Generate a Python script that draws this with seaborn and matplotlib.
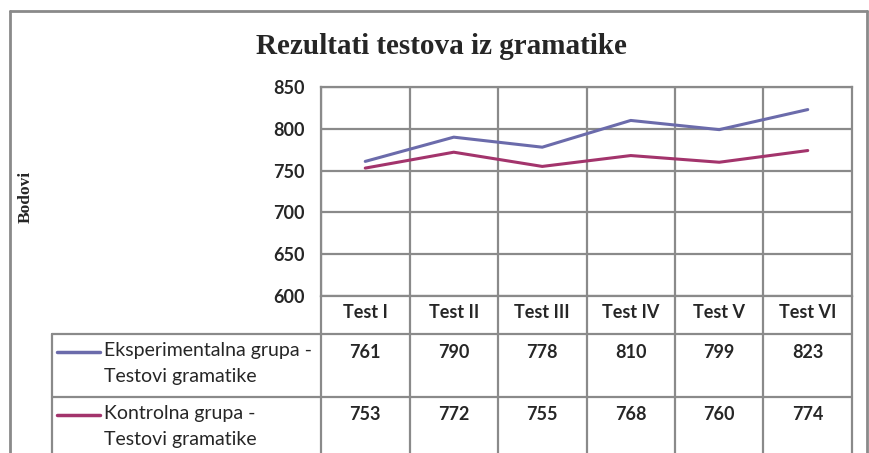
import numpy as np
import pandas as pd
import seaborn as sns
import matplotlib.pyplot as plt
from matplotlib.lines import Line2D

tests = ["Test I", "Test II", "Test III", "Test IV", "Test V", "Test VI"]
eksperimentalna = [761, 790, 778, 810, 799, 823]
kontrolna = [753, 772, 755, 768, 760, 774]
series_names = ["Eksperimentalna grupa -\nTestovi gramatike",
                "Kontrolna grupa -\nTestovi gramatike"]
yticks = [600, 650, 700, 750, 800, 850]

colors = ["#6b6bab", "#a3346c"]
gridc = "#8a8a8a"

df = pd.DataFrame({
    "Test": tests * 2,
    "Bodovi": eksperimentalna + kontrolna,
    "Grupa": [series_names[0]] * 6 + [series_names[1]] * 6,
})

sns.set_style("white")
plt.rcParams['font.family'] = ['Lato', 'DejaVu Sans']

fig = plt.figure(figsize=(8.7, 4.53), dpi=100)
ax = fig.add_axes([321/870, 1 - 296/453, 531/870, 209/453])

sns.lineplot(data=df, x="Test", y="Bodovi", hue="Grupa", palette=colors,
             linewidth=2.2, legend=False, ax=ax)

ax.set_xlim(-0.5, len(tests) - 0.5)
ax.set_ylim(600, 850)
ax.set_yticks(yticks)
ax.set_yticklabels([str(v) for v in yticks], fontsize=13, fontweight='bold')
ax.tick_params(axis='y', length=0, pad=12)
ax.set_xticks(np.arange(len(tests)) - 0.5)
ax.set_xticklabels([])
ax.tick_params(axis='x', length=0)
ax.grid(True, color=gridc, linewidth=1.6)
ax.set_axisbelow(True)
for s in ax.spines.values():
    s.set_color(gridc)
    s.set_linewidth(1.6)
ax.set_xlabel("")
ax.set_ylabel("")

# table under the chart
tx = ax.get_xaxis_transform()
ta = ax.transAxes
left = (52 - 321) / 531
h1 = -38 / 209
h2 = -101 / 209
h3 = -164 / 209
kw = dict(color=gridc, linewidth=1.6, clip_on=False)
ax.add_line(Line2D([left, 1], [h1, h1], transform=ta, **kw))
ax.add_line(Line2D([left, 1], [h2, h2], transform=ta, **kw))
ax.add_line(Line2D([left, left], [h1, h3], transform=ta, **kw))
for i in range(len(tests) + 1):
    ax.add_line(Line2D([i - 0.5, i - 0.5], [0, h3], transform=tx, **kw))

for i, t in enumerate(tests):
    ax.text(i, -17 / 209, t, transform=tx, ha='center', va='center',
            fontsize=13, fontweight='bold')
rows = [eksperimentalna, kontrolna]
row_top = [h1, h2]
for r, vals in enumerate(rows):
    for i, v in enumerate(vals):
        ax.text(i, row_top[r] - 18 / 209, str(v), transform=tx,
                ha='center', va='center', fontsize=13, fontweight='bold')
    y0 = row_top[r] - 18 / 209
    ax.add_line(Line2D([(57 - 321) / 531, (100 - 321) / 531], [y0, y0],
                       transform=ta, color=colors[r], linewidth=2.5, clip_on=False))
    ax.text((104 - 321) / 531, y0 + 10 / 209, series_names[r], transform=ta,
            ha='left', va='top', fontsize=14, linespacing=1.65)

fig.text(441 / 870, 1 - 47 / 453, "Rezultati testova iz gramatike",
         ha='center', va='center', fontsize=21, fontweight='bold',
         family='Liberation Serif')
fig.text(26 / 870, 1 - 197 / 453, "Bodovi", rotation=90, ha='center',
         va='center', fontsize=12.5, fontweight='bold', family='Liberation Serif')

# outer chart frame
fkw = dict(color="#8a8a8a", linewidth=2)
fig.add_artist(Line2D([10 / 870, 867 / 870], [1 - 11 / 453, 1 - 11 / 453], **fkw))
fig.add_artist(Line2D([10 / 870, 10 / 870], [0, 1 - 11 / 453], **fkw))
fig.add_artist(Line2D([867 / 870, 867 / 870], [0, 1 - 11 / 453], **fkw))

fig.savefig("out.png", dpi=100)
